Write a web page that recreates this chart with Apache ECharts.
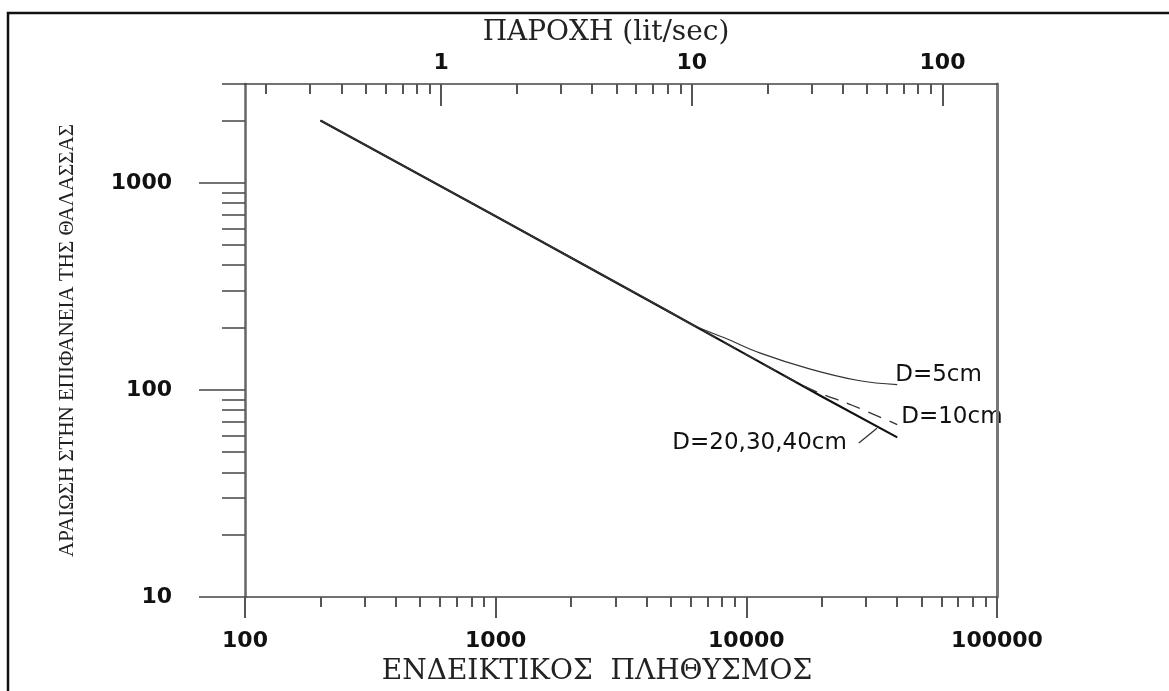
<!DOCTYPE html>
<html><head><meta charset="utf-8">
<script src="https://cdn.jsdelivr.net/npm/echarts@6/dist/echarts.min.js"></script>
<style>html,body{margin:0;padding:0;background:#fff}#c{width:1169px;height:691px}</style>
</head><body><div id="c"></div>
<script>
// ---- tick values ----
const popMajor = [100, 1000, 10000, 100000];
const popMinor = [200, 300, 400, 500, 600, 700, 800, 900, 2000, 3000, 4000, 5000, 6000, 7000, 8000, 9000, 20000, 30000, 40000, 50000, 60000, 70000, 80000, 90000];
const flowMajor = [1, 10, 100];
const flowMinor = [0.2, 0.3, 0.4, 0.5, 0.6, 0.7, 0.8, 0.9, 2, 3, 4, 5, 6, 7, 8, 9, 20, 30, 40, 50, 60, 70, 80, 90];
const dilMajor = [10, 100, 1000];
const dilMinor = [20, 30, 40, 50, 60, 70, 80, 90, 200, 300, 400, 500, 600, 700, 800, 900, 2000, 3000];

// ---- series (population, dilution) ----
const d2040 = [[200, 2000], [1000, 690], [5000, 236], [10000, 148], [20000, 93], [40000, 59]];
const d5 = [[200, 2000], [1000, 690], [5000, 237], [6000, 208], [8400, 176], [11300, 151], [18000, 126], [28000, 111], [40000, 106]];
const d10 = [[200, 2000], [1000, 690], [10000, 148], [15000, 113], [19000, 98], [26000, 85], [40000, 68]];
const leader = [[28100, 55.4], [33200, 65.3]];

const labelNames = ['D=5cm', 'D=10cm', 'D=20,30,40cm'];
const xTitle = 'ΕΝΔΕΙΚΤΙΚΟΣ  ΠΛΗΘΥΣΜΟΣ';
const topTitle = 'ΠΑΡΟΧΗ (lit/sec)';
const yTitle = 'ΑΡΑΙΩΣΗ ΣΤΗΝ ΕΠΙΦΑΝΕΙΑ ΤΗΣ ΘΑΛΑΣΣΑΣ';

const chart = echarts.init(document.getElementById('c'), null, {renderer: 'canvas'});
const numFmt = v => String(Math.round(v * 1000) / 1000);
const tickFont = {fontFamily: 'DejaVu Sans', fontWeight: 'bold', fontSize: 22, color: '#111'};
const hLine = {color: '#444', width: 1.5};
const vLine = {color: '#666', width: 2.5};

const option = {
  backgroundColor: '#fff',
  animation: false,
  grid: {left: 245, right: 172, top: 84, bottom: 87, show: false},
  xAxis: [
    {type: 'log', logBase: 10, position: 'bottom', min: 100, max: 100000,
     axisLine: {show: true, lineStyle: hLine},
     axisTick: {show: true, inside: false, length: 21, customValues: popMajor, lineStyle: {color: '#555', width: 2}},
     axisLabel: {show: true, customValues: popMajor, formatter: numFmt, margin: 33, ...tickFont},
     splitLine: {show: false},
     name: xTitle, nameLocation: 'middle', nameGap: 61,
     nameTextStyle: {fontFamily: 'DejaVu Serif', fontSize: 28, color: '#222', padding: [0, 48, 0, 0]}
    },
    {type: 'log', logBase: 10, position: 'bottom', min: 100, max: 100000,
     axisLine: {show: false},
     axisTick: {show: true, inside: false, length: 10, customValues: popMinor, lineStyle: {color: '#555', width: 2}},
     axisLabel: {show: false}, splitLine: {show: false}
    },
    {type: 'log', logBase: 10, position: 'top', min: 0.165, max: 165,
     axisLine: {show: true, lineStyle: hLine},
     axisTick: {show: true, inside: true, length: 22, customValues: flowMajor, lineStyle: {color: '#555', width: 2}},
     axisLabel: {show: true, customValues: flowMajor, formatter: numFmt, margin: 10, ...tickFont},
     splitLine: {show: false},
     name: topTitle, nameLocation: 'middle', nameGap: 30,
     nameTextStyle: {fontFamily: 'DejaVu Serif', fontSize: 28, color: '#222', padding: [0, 30, 0, 0]}
    },
    {type: 'log', logBase: 10, position: 'top', min: 0.165, max: 165,
     axisLine: {show: false},
     axisTick: {show: true, inside: true, length: 10, customValues: flowMinor, lineStyle: {color: '#555', width: 2}},
     axisLabel: {show: false}, splitLine: {show: false}
    }
  ],
  yAxis: [
    {type: 'log', logBase: 10, position: 'left', min: 10, max: 3000,
     axisLine: {show: true, lineStyle: vLine},
     axisTick: {show: true, inside: false, length: 46, customValues: dilMajor, lineStyle: {color: '#444', width: 1.5}},
     axisLabel: {show: true, customValues: dilMajor, formatter: numFmt, margin: 73, ...tickFont},
     splitLine: {show: false},
     name: yTitle, nameLocation: 'middle', nameRotate: 90, nameGap: 167,
     nameTextStyle: {fontFamily: 'Liberation Serif', fontSize: 21, color: '#222'}
    },
    {type: 'log', logBase: 10, position: 'left', min: 10, max: 3000,
     axisLine: {show: false},
     axisTick: {show: true, inside: false, length: 23, customValues: dilMinor, lineStyle: {color: '#444', width: 1.5}},
     axisLabel: {show: false}, splitLine: {show: false}
    },
    {type: 'log', logBase: 10, position: 'right', min: 10, max: 3000,
     axisLine: {show: true, lineStyle: {color: '#777', width: 3}},
     axisTick: {show: false}, axisLabel: {show: false}, splitLine: {show: false}
    }
  ],
  series: [
    {name: labelNames[2], type: 'line', xAxisIndex: 0, yAxisIndex: 0, data: d2040,
     showSymbol: false, symbol: 'none', smooth: false,
     lineStyle: {color: '#111', width: 2.2},
     markLine: {silent: true, symbol: ['none', 'none'], label: {show: false},
       lineStyle: {color: '#333', width: 1.3, type: 'solid'},
       data: [[{coord: leader[0]}, {coord: leader[1]}]]}
    },
    {name: labelNames[0], type: 'line', xAxisIndex: 0, yAxisIndex: 0, data: d5,
     showSymbol: false, symbol: 'none', smooth: 0.4,
     lineStyle: {color: '#333', width: 1.2}
    },
    {name: labelNames[1], type: 'line', xAxisIndex: 0, yAxisIndex: 0, data: d10,
     showSymbol: false, symbol: 'none', smooth: 0.4,
     lineStyle: {color: '#333', width: 1.3, type: [14, 9]}
    }
  ]
};
chart.setOption(option);

const toPx = p => chart.convertToPixel({xAxisIndex: 0, yAxisIndex: 0}, p);
const e5 = toPx(d5[d5.length - 1]);
const e10 = toPx(d10[d10.length - 1]);
const eL = toPx(leader[0]);
const lblFont = {fontFamily: 'DejaVu Sans', fontSize: 23, fill: '#111'};
chart.setOption({
  graphic: [
    {type: 'rect', silent: true, shape: {x: 8, y: 13, width: 1400, height: 900},
     style: {fill: 'none', stroke: '#111', lineWidth: 2.5}},
    {type: 'text', x: e5[0] - 2, y: e5[1] - 10,
     style: Object.assign({text: labelNames[0], align: 'left', verticalAlign: 'middle'}, lblFont)},
    {type: 'text', x: e10[0] + 4, y: e10[1] - 8,
     style: Object.assign({text: labelNames[1], align: 'left', verticalAlign: 'middle'}, lblFont)},
    {type: 'text', x: eL[0] - 12, y: eL[1],
     style: Object.assign({text: labelNames[2], align: 'right', verticalAlign: 'middle'}, lblFont)}
  ]
});
</script></body></html>
